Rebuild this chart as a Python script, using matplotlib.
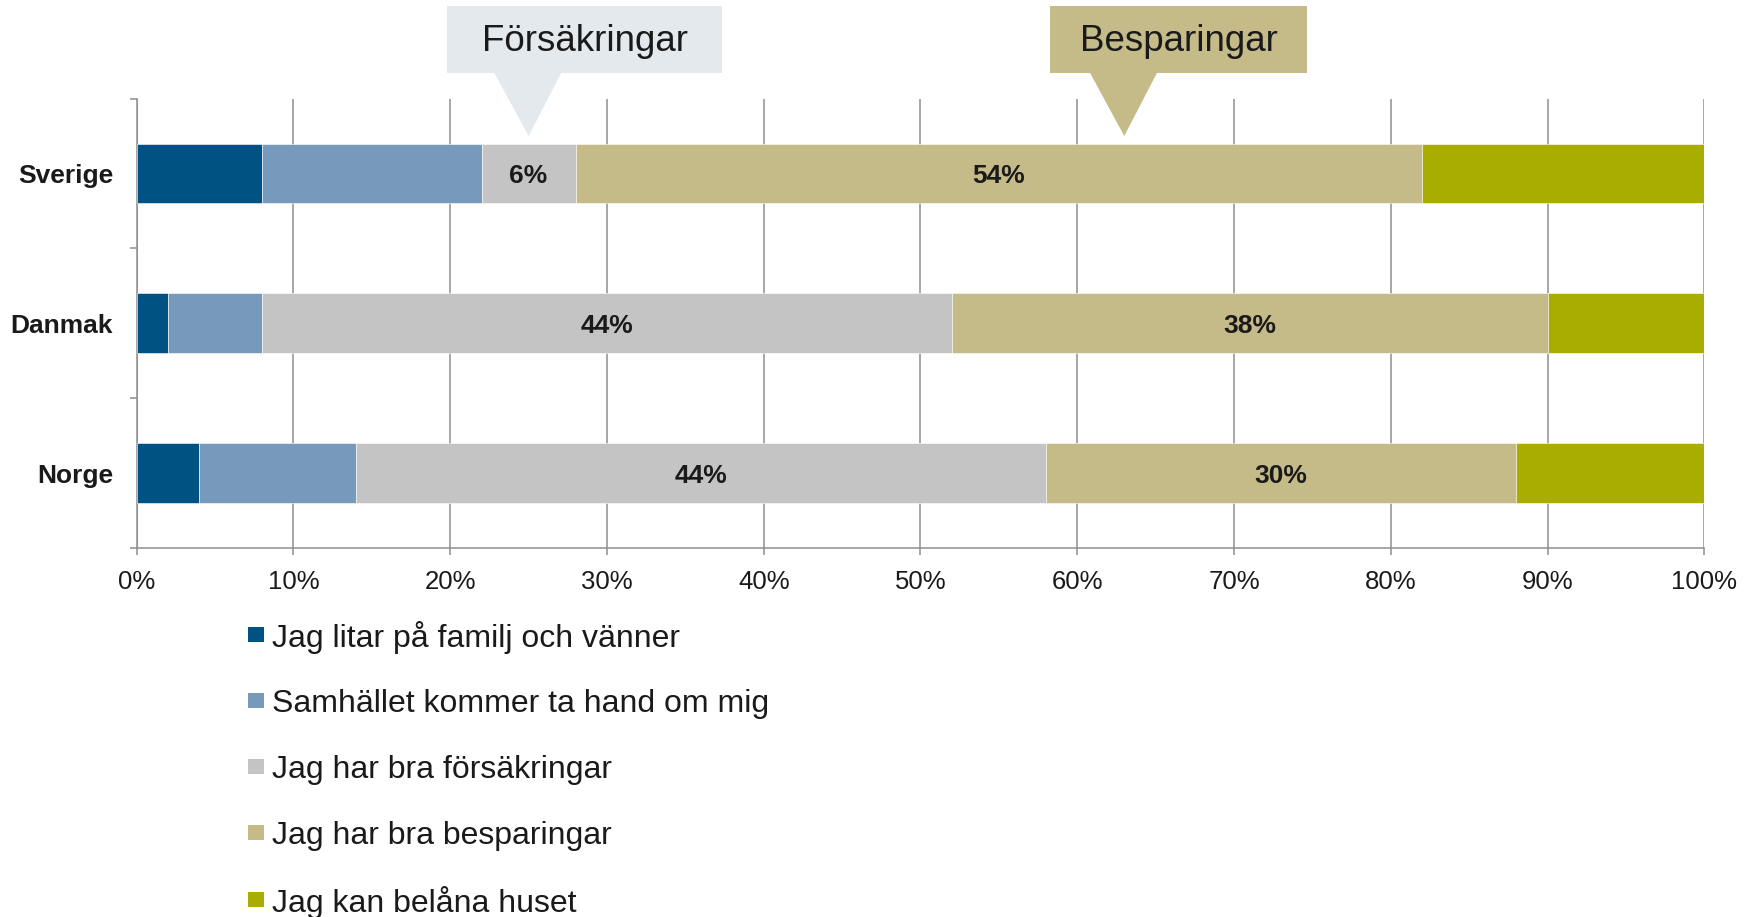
import matplotlib
matplotlib.use("Agg")
import matplotlib.pyplot as plt
import matplotlib.transforms as mtransforms
from matplotlib.patches import Polygon, Rectangle
import numpy as np

plt.rcParams['font.family'] = ['Liberation Sans', 'DejaVu Sans']

# data
countries = ["Sverige", "Danmak", "Norge"]
series = ["Jag litar på familj och vänner",
          "Samhället kommer ta hand om mig",
          "Jag har bra försäkringar",
          "Jag har bra besparingar",
          "Jag kan belåna huset"]
familj = [8, 2, 4]
samhallet = [14, 6, 10]
forsakringar = [6, 44, 44]
besparingar = [54, 38, 30]
belana = [18, 10, 12]
labelled = [False, False, True, True, False]   # which series get value labels
xticks = np.arange(0, 101, 10)
callouts = [("Försäkringar", 25), ("Besparingar", 63)]

colors = ["#005283", "#7799bc", "#c4c4c4", "#c5bb89", "#a8ad00"]
box_colors = ["#e4e9ed", "#c5bb89"]
txt = "#1a1a1a"
grid = "#8e8e8e"

fig = plt.figure(figsize=(17.57, 9.17), dpi=100)
ax = fig.add_axes([0.0778, 0.4024, 0.8922, 0.4901])

values = [familj, samhallet, forsakringar, besparingar, belana]
y = np.arange(len(countries))
left = np.zeros(len(countries))
for i, vals in enumerate(values):
    vals = np.array(vals, dtype=float)
    ax.barh(y, vals, left=left, height=0.4, color=colors[i], zorder=3,
            edgecolor="white", linewidth=0.4)
    if labelled[i]:
        for yy, l, v in zip(y, left, vals):
            ax.text(l + v / 2, yy, "%d%%" % v, ha="center", va="center_baseline",
                    fontsize=19, fontweight="bold", color=txt, zorder=4)
    left += vals

ax.set_xlim(0, 100)
ax.set_ylim(2.5, -0.5)
ax.set_xticks(xticks)
ax.set_xticklabels(["%d%%" % t for t in xticks])
ax.set_yticks(y)
ax.set_yticklabels(countries, fontweight="bold")
ax.set_yticks([-0.5, 0.5, 1.5, 2.5], minor=True)
ax.tick_params(axis="y", which="major", length=0, pad=17, labelsize=19, labelcolor=txt)
ax.tick_params(axis="y", which="minor", length=5, width=1.1, color=grid)
ax.tick_params(axis="x", length=5, width=1.1, color=grid, pad=10.5, labelsize=18.5, labelcolor=txt)
ax.grid(axis="x", color=grid, linewidth=1.1, zorder=0)
ax.set_axisbelow(True)
for s in ["top", "right"]:
    ax.spines[s].set_visible(False)
for s in ["left", "bottom"]:
    ax.spines[s].set_color(grid)
    ax.spines[s].set_linewidth(1.1)

# callouts above the chart
tr = mtransforms.blended_transform_factory(ax.transData, fig.transFigure)
box_w = [17.55, 16.4]
box_shift = [3.58, 3.48]
for (label, target), bc, bw, sh in zip(callouts, box_colors, box_w, box_shift):
    cx = target + sh
    box = Rectangle((cx - bw / 2, 0.9204), bw, 0.0731, transform=tr,
                    facecolor=bc, edgecolor="none", clip_on=False)
    fig.add_artist(box)
    tri = Polygon([(target - 2.2, 0.9210), (target + 2.1, 0.9210), (target, 0.8517)],
                  closed=True, transform=tr, facecolor=bc, edgecolor="none", clip_on=False)
    fig.add_artist(tri)
    fig.text(cx, 0.955, label, transform=tr, ha="center", va="center",
             fontsize=26.5, color=txt)

# legend, drawn by hand so the last entry runs off the bottom like the original
W, H = 1757.0, 917.0
for i, (label, c) in enumerate(zip(series, colors)):
    yc = 634 + i * 66.3
    fig.add_artist(Rectangle((248 / W, 1 - (yc + 7.5) / H), 16 / W, 15 / H,
                             transform=fig.transFigure, facecolor=c, edgecolor="none"))
    fig.text(271.5 / W, 1 - yc / H, label, ha="left", va="center_baseline",
             fontsize=23, color=txt)

fig.savefig("out.png", dpi=100)
